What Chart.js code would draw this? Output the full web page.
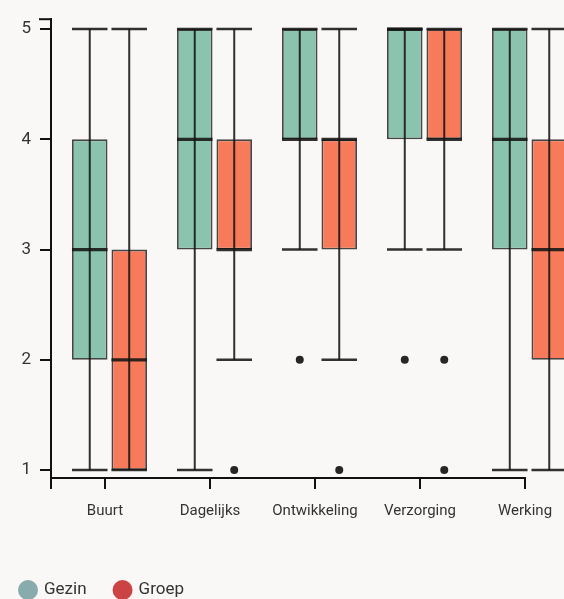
<!DOCTYPE html>
<html>
<head>
<meta charset="utf-8">
<script src="https://cdn.jsdelivr.net/npm/chart.js@4.4.1/dist/chart.umd.min.js"></script>
<style>
  html, body { margin: 0; padding: 0; background: #f9f8f6; overflow: hidden; width: 564px; height: 599px; }
  #wrap { width: 600px; height: 599px; }
</style>
</head>
<body>
<div id="wrap"><canvas id="c" width="600" height="599"></canvas></div>
<script>
const categories = ['Buurt', 'Dagelijks', 'Ontwikkeling', 'Verzorging', 'Werking'];
const yTicks = [1, 2, 3, 4, 5];

const gezinLow      = [1, 1, 3, 3, 1];
const gezinQ1       = [2, 3, 4, 4, 3];
const gezinMedian   = [3, 4, 4, 5, 4];
const gezinQ3       = [4, 5, 5, 5, 5];
const gezinHigh     = [5, 5, 5, 5, 5];
const gezinOutliers = [[], [], [2], [2], []];

const groepLow      = [1, 2, 2, 3, 1];
const groepQ1       = [1, 3, 3, 4, 2];
const groepMedian   = [2, 3, 4, 4, 3];
const groepQ3       = [3, 4, 4, 5, 4];
const groepHigh     = [5, 5, 5, 5, 5];
const groepOutliers = [[], [1], [1], [2, 1], []];

const seriesNames = ['Gezin', 'Groep'];
const legendColors = ['#88abab', '#cc4343'];

const stats = [
  { low: gezinLow, med: gezinMedian, high: gezinHigh, out: gezinOutliers },
  { low: groepLow, med: groepMedian, high: groepHigh, out: groepOutliers }
];

const FONT = 'Roboto, "Noto Sans", sans-serif';
const INK = 'rgba(20,20,20,0.88)';
const TICK_SHIFT = -4.5;

const bgPlugin = {
  id: 'bg',
  beforeDraw(chart) {
    const ctx = chart.ctx;
    ctx.save();
    ctx.fillStyle = '#f9f8f6';
    ctx.fillRect(0, 0, chart.width, chart.height);
    ctx.restore();
  }
};

const boxPlugin = {
  id: 'boxParts',
  afterDatasetsDraw(chart) {
    const ctx = chart.ctx;
    const y = chart.scales.y;
    ctx.save();
    chart.data.datasets.forEach((ds, di) => {
      const meta = chart.getDatasetMeta(di);
      const s = stats[di];
      meta.data.forEach((bar, i) => {
        const half = bar.width / 2;
        const x = bar.x;
        const yl = y.getPixelForValue(s.low[i]);
        const yh = y.getPixelForValue(s.high[i]);
        const ym = y.getPixelForValue(s.med[i]);
        ctx.strokeStyle = INK;
        ctx.lineWidth = 2;
        ctx.beginPath();
        ctx.moveTo(x, yl); ctx.lineTo(x, yh);
        ctx.stroke();
        ctx.lineWidth = 2.5;
        ctx.beginPath();
        ctx.moveTo(x - half, yl); ctx.lineTo(x + half, yl);
        ctx.moveTo(x - half, yh); ctx.lineTo(x + half, yh);
        ctx.stroke();
        ctx.lineWidth = 3.2;
        ctx.beginPath();
        ctx.moveTo(x - half, ym); ctx.lineTo(x + half, ym);
        ctx.stroke();
        ctx.fillStyle = '#262626';
        s.out[i].forEach(v => {
          ctx.beginPath();
          ctx.arc(x, y.getPixelForValue(v), 4, 0, Math.PI * 2);
          ctx.fill();
        });
      });
    });
    ctx.restore();
  }
};

const axisPlugin = {
  id: 'axisExtras',
  afterDraw(chart) {
    const ctx = chart.ctx;
    const area = chart.chartArea;
    const yb = Math.round(area.bottom);
    const xs = chart.scales.x;
    const tickXs = categories.map((c, i) => Number(xs.getPixelForValue(i)) + TICK_SHIFT);
    const lastX = tickXs[tickXs.length - 1];
    ctx.save();
    ctx.strokeStyle = '#111111';
    ctx.lineWidth = 2;
    ctx.beginPath();
    ctx.moveTo(area.left - 1, yb);
    ctx.lineTo(lastX + 1, yb);
    ctx.stroke();
    tickXs.concat([area.left]).forEach(px => {
      ctx.beginPath();
      ctx.moveTo(px, yb);
      ctx.lineTo(px, yb + 11);
      ctx.stroke();
    });
    ctx.beginPath();
    ctx.moveTo(area.left - 12, area.top); ctx.lineTo(area.left, area.top);
    ctx.stroke();

    // legend
    ctx.font = '17px ' + FONT;
    ctx.textBaseline = 'middle';
    ctx.textAlign = 'left';
    let lx = 18;
    const ly = 590;
    seriesNames.forEach((n, i) => {
      ctx.fillStyle = legendColors[i];
      ctx.beginPath();
      ctx.arc(lx + 10, ly, 10, 0, Math.PI * 2);
      ctx.fill();
      ctx.fillStyle = '#333';
      ctx.fillText(n, lx + 26, ly);
      lx += 26 + ctx.measureText(n).width + 26;
    });
    ctx.restore();
  }
};

new Chart(document.getElementById('c'), {
  type: 'bar',
  data: {
    datasets: [
      {
        label: seriesNames[0],
        data: categories.map((c, i) => ({ x: i, y: [gezinQ1[i], gezinQ3[i]] })),
        backgroundColor: '#8ac4ae',
        borderColor: 'rgba(30,30,30,0.82)',
        borderWidth: 1.8,
        borderSkipped: false
      },
      {
        label: seriesNames[1],
        data: categories.map((c, i) => ({ x: i, y: [groepQ1[i], groepQ3[i]] })),
        backgroundColor: '#f77b5b',
        borderColor: 'rgba(30,30,30,0.82)',
        borderWidth: 1.8,
        borderSkipped: false
      }
    ]
  },
  options: {
    responsive: false,
    animation: false,
    devicePixelRatio: 1,
    categoryPercentage: 0.752,
    barPercentage: 0.9,
    layout: { padding: { top: 13, right: 12, left: 0, bottom: 0 } },
    plugins: { legend: { display: false }, tooltip: { enabled: false } },
    scales: {
      x: {
        type: 'linear',
        offset: false,
        min: -0.557,
        max: 4.557,
        afterBuildTicks(scale) { scale.ticks = categories.map((c, i) => ({ value: i })); },
        afterFit(scale) { scale.height = 121; },
        grid: { display: false, offset: false },
        border: { display: false },
        ticks: {
          autoSkip: false,
          maxRotation: 0,
          padding: 16,
          labelOffset: TICK_SHIFT,
          color: '#333',
          font: { family: FONT, size: 15 },
          callback: (v) => categories[v]
        }
      },
      y: {
        type: 'linear',
        min: 0.928,
        max: 5.09,
        afterBuildTicks(scale) { scale.ticks = yTicks.map(v => ({ value: v })); },
        afterFit(scale) { scale.width = 51; },
        grid: { display: true, drawOnChartArea: false, drawTicks: true, tickLength: 11, color: '#111', lineWidth: 2 },
        border: { display: true, color: '#111', width: 2 },
        ticks: {
          padding: 9,
          color: '#333',
          font: { family: FONT, size: 17 },
          callback: (v) => String(v)
        }
      }
    }
  },
  plugins: [bgPlugin, boxPlugin, axisPlugin]
});
</script>
</body>
</html>
